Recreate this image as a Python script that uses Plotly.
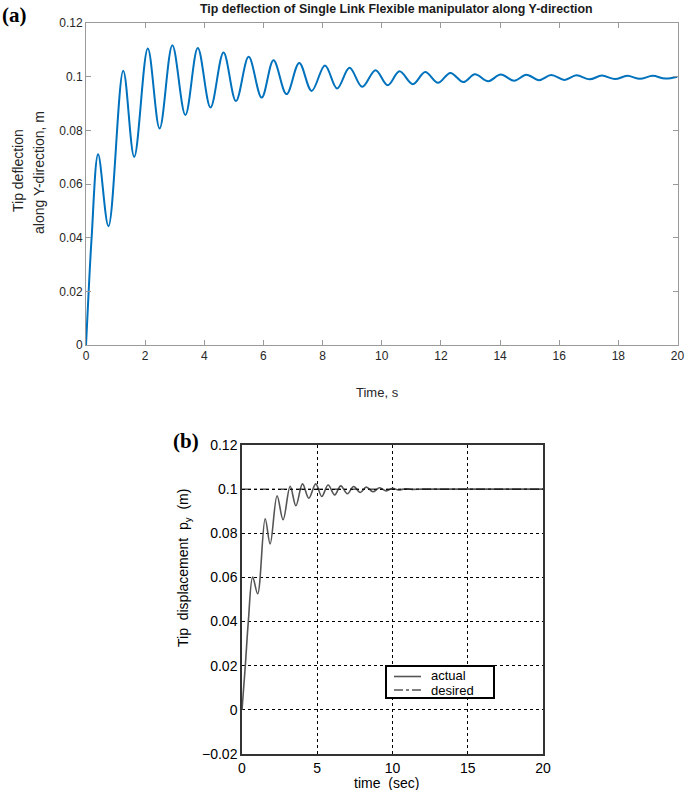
import plotly.graph_objects as go

# ---------- Panel (a) data: read peaks / troughs ----------
t_a = [0, 0.09, 0.19, 0.41, 0.76, 1.26, 1.63, 2.09, 2.49, 2.92, 3.36, 3.78, 4.21, 4.65, 5.07,
       5.50, 5.94, 6.34, 6.78, 7.21, 7.63, 8.08, 8.49, 8.91, 9.34, 9.79, 10.2, 10.6, 11.05,
       11.47, 11.9, 12.32, 12.76, 13.15, 13.6, 14.02, 14.48, 14.89, 15.32, 15.73, 16.18,
       16.58, 17.03, 17.44, 17.89, 18.3, 18.73, 19.16, 19.58, 20.0]
y_a = [0, 0.020, 0.040, 0.0711, 0.0443, 0.1022, 0.0701, 0.1105, 0.0807, 0.1117, 0.0857, 0.1107,
       0.0885, 0.1090, 0.0909, 0.1074, 0.0922, 0.1061, 0.0935, 0.1051, 0.0947, 0.1042, 0.0956,
       0.1033, 0.0962, 0.1024, 0.0968, 0.1020, 0.0972, 0.1017, 0.0977, 0.1014, 0.0980, 0.1009,
       0.0983, 0.1008, 0.0985, 0.1007, 0.0987, 0.1006, 0.0988, 0.1005, 0.0990, 0.1004, 0.0991,
       0.1003, 0.0992, 0.1003, 0.0993, 0.1000]

# ---------- Panel (b) data ----------
t_b = [0, 0.22, 0.42, 0.71, 1.04, 1.54, 1.87, 2.33, 2.73, 3.2, 3.58, 4.02, 4.44, 4.9, 5.3,
       5.72, 6.16, 6.56, 7.0, 7.42, 7.86, 8.26, 8.7, 9.14, 9.58, 10.0, 10.4, 10.85, 11.3,
       12.0, 14.0, 16.0, 18.0, 20.0]
y_b = [0, 0.020, 0.040, 0.0602, 0.0526, 0.0866, 0.0752, 0.0970, 0.0861, 0.1013, 0.0925,
       0.1024, 0.0959, 0.1024, 0.0967, 0.1019, 0.0974, 0.1015, 0.0979, 0.1012, 0.0985, 0.1009,
       0.0988, 0.1006, 0.0992, 0.1004, 0.0996, 0.1002, 0.0999, 0.1000, 0.1000, 0.1000, 0.1000,
       0.1000]
t_des = [0, 20]
y_des = [0.1, 0.1]
legend_names = ["actual", "desired"]

# ---------- tick labels ----------
xa_ticks = [0, 2, 4, 6, 8, 10, 12, 14, 16, 18, 20]
xa_text = ["0", "2", "4", "6", "8", "10", "12", "14", "16", "18", "20"]
ya_ticks = [0, 0.02, 0.04, 0.06, 0.08, 0.1, 0.12]
ya_text = ["0", "0.02", "0.04", "0.06", "0.08", "0.1", "0.12"]
xb_ticks = [0, 5, 10, 15, 20]
xb_text = ["0", "5", "10", "15", "20"]
yb_ticks = [-0.02, 0, 0.02, 0.04, 0.06, 0.08, 0.1, 0.12]
yb_text = ["\u22120.02", "0", "0.02", "0.04", "0.06", "0.08", "0.1", "0.12"]

W, H = 685, 790
def px(x): return x / W
def py(y): return 1 - y / H

ACT_COLOR = "#555555"

fig = go.Figure()
fig.add_trace(go.Scatter(x=t_a, y=y_a, mode="lines", line=dict(color="#0072BD", width=2, shape="spline", smoothing=1.0),
                         xaxis="x", yaxis="y", showlegend=False))
fig.add_trace(go.Scatter(x=t_b, y=y_b, mode="lines", name=legend_names[0], showlegend=False,
                         line=dict(color=ACT_COLOR, width=1.6, shape="spline", smoothing=1.0),
                         xaxis="x2", yaxis="y2"))
fig.add_trace(go.Scatter(x=t_des, y=y_des, mode="lines", name=legend_names[1], showlegend=False,
                         line=dict(color="black", width=1, dash="dashdot"),
                         xaxis="x2", yaxis="y2"))

axA = dict(showline=True, linecolor="#9a9a9a", linewidth=1, mirror="ticks", ticks="inside",
           ticklen=5, tickcolor="#9a9a9a", showgrid=False, zeroline=False, automargin=False,
           ticklabeloverflow="allow",
           tickfont=dict(family="Liberation Sans, Arial", size=12, color="#262626"))
axB = dict(showline=True, linecolor="#333333", linewidth=1.5, mirror=True, ticks="",
           showgrid=True, gridcolor="black", gridwidth=1, griddash="dot", zeroline=False, automargin=False,
           ticklabeloverflow="allow",
           tickfont=dict(family="Liberation Sans, Arial", size=14, color="black"))

fig.update_layout(
    width=W, height=H, margin=dict(l=0, r=0, t=0, b=0, autoexpand=False),
    paper_bgcolor="white", plot_bgcolor="white", showlegend=False,
    xaxis=dict(domain=[px(86), px(677.5)], range=[0, 20], tickvals=xa_ticks, ticktext=xa_text,
               anchor="y", **axA),
    yaxis=dict(domain=[py(345), py(23)], range=[0, 0.12], tickvals=ya_ticks, ticktext=ya_text,
               anchor="x", **axA),
    xaxis2=dict(domain=[px(242), px(543)], range=[0, 20], tickvals=xb_ticks, ticktext=xb_text,
                anchor="y2", **axB),
    yaxis2=dict(domain=[py(754), py(445)], range=[-0.02, 0.12], tickvals=yb_ticks, ticktext=yb_text,
                anchor="x2", **axB),
)

# legend box for panel (b), drawn in paper coordinates
shapes = [
    dict(type="rect", x0=px(386), x1=px(494), y0=py(698), y1=py(666),
         line=dict(color="black", width=2), fillcolor="white", layer="above"),
    dict(type="line", x0=px(394), x1=px(421), y0=py(676.5), y1=py(676.5),
         line=dict(color=ACT_COLOR, width=1.6), layer="above"),
    dict(type="line", x0=px(394), x1=px(421), y0=py(690), y1=py(690),
         line=dict(color="black", width=1, dash="dashdot"), layer="above"),
]
for s in shapes:
    s.update(xref="paper", yref="paper")
fig.update_layout(shapes=shapes)

FS = "Liberation Sans, Arial"
ann = [
    dict(text="<b>Tip deflection of Single Link Flexible manipulator along Y-direction</b>",
         x=px(396), y=py(9), font=dict(family=FS, size=12.4, color="#1a1a1a")),
    dict(text="Time, s", x=px(377), y=py(392), font=dict(family=FS, size=13, color="#262626")),
    dict(text="Tip deflection", x=px(18), y=py(171), textangle=-90,
         font=dict(family=FS, size=14, color="#262626")),
    dict(text="along Y-direction, m", x=px(39), y=py(173), textangle=-90,
         font=dict(family=FS, size=14, color="#262626")),
    dict(text="<b>(a)</b>", x=px(14), y=py(15), font=dict(family="Liberation Serif, Times New Roman", size=21, color="black")),
    dict(text="<b>(b)</b>", x=px(186), y=py(441), font=dict(family="Liberation Serif, Times New Roman", size=21, color="black")),
    dict(text="time  (sec)", x=px(387), y=py(783), font=dict(family=FS, size=14, color="black")),
    dict(text="Tip  displacement  p<sub>y</sub>  (m)", x=px(184), y=py(568), textangle=-90,
         font=dict(family=FS, size=14, color="black")),
    dict(text=legend_names[0], x=px(429), y=py(675.5), xanchor="left",
         font=dict(family=FS, size=13, color="black")),
    dict(text=legend_names[1], x=px(429), y=py(690), xanchor="left",
         font=dict(family=FS, size=13, color="black")),
]
for a in ann:
    a.setdefault("xanchor", "center")
    a.update(xref="paper", yref="paper", showarrow=False, yanchor="middle")
fig.update_layout(annotations=ann)

fig.write_html("out.html", config={"displayModeBar": False},
               post_script="document.body.style.margin='0px';")
